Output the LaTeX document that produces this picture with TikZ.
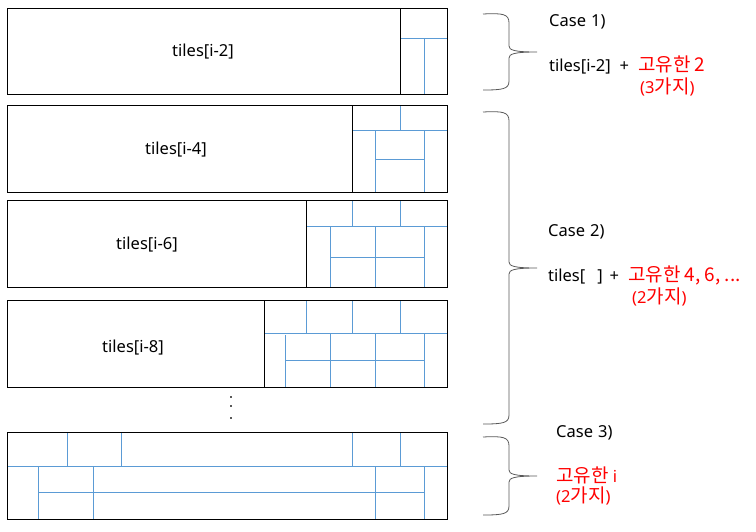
\documentclass[tikz,border=0pt]{standalone}
\usepackage{fontspec}
\setmainfont{Noto Sans}
\newfontfamily\kr[Scale=1.15]{Noto Sans CJK KR}
\begin{document}
\begin{tikzpicture}[x=1pt,y=-1pt,
  boxline/.style={draw=black,line width=0.9pt},
  tileline/.style={draw=tileblue,line width=0.9pt},
  bracepath/.style={draw=bracegray,line width=0.8pt},
  lbl/.style={font=\fontsize{16.5}{19}\selectfont,inner sep=0pt,text=black},
  redlbl/.style={font=\fontsize{16.5}{19}\selectfont,inner sep=0pt,text=red},
  dotmark/.style={fill=dotgray,inner sep=0pt,minimum size=2.2pt,draw=none}]
\definecolor{tileblue}{HTML}{5B9BD5}
\definecolor{bracegray}{HTML}{595959}
\definecolor{dotgray}{HTML}{595959}
\useasboundingbox (0,0) rectangle (756,531);
% ---- Row 1 ----
\draw[tileline] (400,38) -- (447,38);
\draw[tileline] (424,38) -- (424,94);
\draw[boxline] (7,8) rectangle (447,94);
\draw[boxline] (400,8) -- (400,94);
\node[lbl] (r1) at (203,52) {tiles[i-2]};
% ---- Row 2 ----
\draw[tileline] (400,105) -- (400,130);
\draw[tileline] (352,130) -- (447,130);
\draw[tileline] (375,130) -- (375,192);
\draw[tileline] (424,130) -- (424,192);
\draw[tileline] (375,159) -- (424,159);
\draw[boxline] (7,105) rectangle (447,192);
\draw[boxline] (352,105) -- (352,192);
\node[lbl] (r2) at (176,150) {tiles[i-4]};
% ---- Row 3 ----
\draw[tileline] (352,200) -- (352,226);
\draw[tileline] (400,200) -- (400,226);
\draw[tileline] (306,226) -- (447,226);
\draw[tileline] (330,226) -- (330,287);
\draw[tileline] (375,226) -- (375,287);
\draw[tileline] (424,226) -- (424,287);
\draw[tileline] (330,257) -- (424,257);
\draw[boxline] (7,200) rectangle (447,287);
\draw[boxline] (306,200) -- (306,287);
\node[lbl] (r3) at (147,245) {tiles[i-6]};
% ---- Row 4 ----
\draw[tileline] (306,300) -- (306,333);
\draw[tileline] (352,300) -- (352,333);
\draw[tileline] (400,300) -- (400,333);
\draw[tileline] (264,333) -- (447,333);
\draw[tileline] (285,335) -- (285,387);
\draw[tileline] (330,333) -- (330,387);
\draw[tileline] (375,333) -- (375,387);
\draw[tileline] (424,333) -- (424,387);
\draw[tileline] (285,360) -- (424,360);
\draw[boxline] (7,300) rectangle (447,387);
\draw[boxline] (264,300) -- (264,387);
\node[lbl] (r4) at (133,348) {tiles[i-8]};
% ---- dots ----
\node[dotmark] (d1) at (231,397) {};
\node[dotmark] (d2) at (231,406) {};
\node[dotmark] (d3) at (231,418) {};
% ---- Row 5 ----
\draw[tileline] (67,432) -- (67,466);
\draw[tileline] (121,432) -- (121,466);
\draw[tileline] (352,432) -- (352,466);
\draw[tileline] (400,432) -- (400,466);
\draw[tileline] (7,466) -- (447,466);
\draw[tileline] (38,466) -- (38,519);
\draw[tileline] (93,466) -- (93,519);
\draw[tileline] (375,466) -- (375,519);
\draw[tileline] (424,466) -- (424,519);
\draw[tileline] (38,492) -- (424,492);
\draw[boxline] (7,432) rectangle (447,519);
% ---- braces ----
\draw[bracepath] (483,14) .. controls (503,13) and (509,14) .. (509,23) -- (509,46)
  .. controls (509,50) and (514,52) .. (537,52) .. controls (514,52) and (509,54) .. (509,58)
  -- (509,81) .. controls (509,89) and (503,90) .. (483,90);
\draw[bracepath] (483,112) .. controls (503,111) and (509,112) .. (509,121) -- (509,262)
  .. controls (509,266) and (514,268) .. (537,268) .. controls (514,268) and (509,270) .. (509,274)
  -- (509,415) .. controls (509,423) and (503,424) .. (483,424);
\draw[bracepath] (483,437) .. controls (503,436) and (509,437) .. (509,446) -- (509,470)
  .. controls (509,474) and (514,476) .. (537,476) .. controls (514,476) and (509,478) .. (509,482)
  -- (509,506) .. controls (509,514) and (503,515) .. (483,515);
% ---- texts ----
\node[lbl,anchor=west] (c1) at (549,22) {Case\hspace{5pt}1)};
\node[lbl,anchor=west] (t1) at (549,65) {tiles[i-2]\hspace{9pt}+\hspace{9pt}\textcolor{red}{\kr 고유한 2}};
\node[redlbl,anchor=west] (n1) at (640,87) {(3{\kr 가지})};
\node[lbl,anchor=west] (c2) at (548,232) {Case\hspace{5pt}2)};
\node[lbl,anchor=west] (t2) at (548,275) {tiles[\hspace{12pt}]\hspace{7pt}+\hspace{9pt}\textcolor{red}{\kr 고유한 4, 6, ...}};
\node[redlbl,anchor=west] (n2) at (632,297) {(2{\kr 가지})};
\node[lbl,anchor=west] (c3) at (556,433) {Case\hspace{5pt}3)};
\node[redlbl,anchor=west] (u3) at (556,475) {{\kr 고유한} i};
\node[redlbl,anchor=west] (n3) at (556,496) {(2{\kr 가지})};
\end{tikzpicture}
\end{document}
